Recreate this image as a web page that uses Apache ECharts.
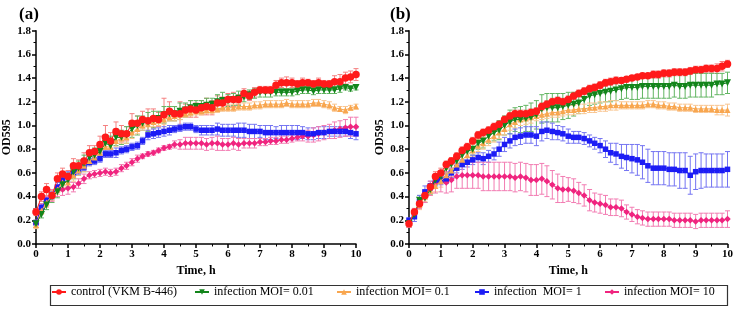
<!DOCTYPE html>
<html>
<head>
<meta charset="utf-8">
<script src="https://cdn.jsdelivr.net/npm/echarts@6/dist/echarts.min.js"></script>
<style>
  html, body { margin: 0; padding: 0; background: #fff; }
  #chart { width: 736px; height: 312px; }
</style>
</head>
<body>
<div id="chart"></div>
<script>
// sampling times, h (every 10 min)
var times = [0,0.17,0.33,0.5,0.67,0.83,1,1.17,1.33,1.5,1.67,1.83,2,2.17,2.33,2.5,2.67,2.83,3,3.17,3.33,3.5,3.67,3.83,4,4.17,4.33,4.5,4.67,4.83,5,5.17,5.33,5.5,5.67,5.83,6,6.17,6.33,6.5,6.67,6.83,7,7.17,7.33,7.5,7.67,7.83,8,8.17,8.33,8.5,8.67,8.83,9,9.17,9.33,9.5,9.67,9.83,10];

var names = ['control (VKM B-446)', 'infection MOI= 0.01', 'infection MOI= 0.1', 'infection  MOI= 1', 'infection MOI= 10'];

// panel (a)
var ctrlA = [0.27,0.40,0.46,0.41,0.55,0.59,0.57,0.66,0.66,0.70,0.77,0.78,0.84,0.90,0.87,0.95,0.93,0.93,1.02,1.02,1.05,1.04,1.06,1.05,1.09,1.12,1.10,1.10,1.13,1.14,1.13,1.15,1.16,1.15,1.19,1.19,1.22,1.22,1.22,1.27,1.25,1.28,1.30,1.30,1.30,1.34,1.36,1.36,1.36,1.35,1.36,1.36,1.35,1.36,1.35,1.35,1.37,1.37,1.40,1.41,1.43];
var ctrlAErr = [0.03,0.04,0.05,0.04,0.05,0.05,0.05,0.06,0.05,0.07,0.06,0.05,0.07,0.10,0.07,0.08,0.07,0.06,0.08,0.06,0.07,0.10,0.08,0.06,0.14,0.08,0.06,0.10,0.05,0.07,0.06,0.06,0.07,0.06,0.06,0.05,0.05,0.06,0.04,0.04,0.04,0.04,0.03,0.03,0.03,0.04,0.04,0.05,0.04,0.03,0.04,0.03,0.03,0.04,0.03,0.03,0.05,0.06,0.05,0.05,0.05];
var moi001A = [0.17,0.25,0.33,0.40,0.44,0.50,0.54,0.61,0.64,0.68,0.73,0.75,0.78,0.85,0.83,0.90,0.90,0.92,0.97,1.00,1.02,1.03,1.05,1.06,1.09,1.10,1.10,1.12,1.13,1.15,1.16,1.16,1.17,1.18,1.20,1.21,1.21,1.22,1.23,1.24,1.26,1.27,1.28,1.28,1.28,1.28,1.28,1.28,1.28,1.29,1.30,1.30,1.29,1.30,1.30,1.30,1.30,1.31,1.32,1.31,1.32];
var moi001AErr = [0.03,0.03,0.04,0.05,0.05,0.05,0.06,0.06,0.06,0.07,0.05,0.06,0.06,0.07,0.08,0.07,0.06,0.07,0.07,0.08,0.06,0.08,0.07,0.06,0.07,0.06,0.06,0.07,0.06,0.06,0.05,0.05,0.06,0.05,0.06,0.07,0.05,0.05,0.06,0.04,0.04,0.04,0.04,0.04,0.04,0.03,0.03,0.03,0.03,0.03,0.03,0.03,0.03,0.03,0.03,0.03,0.03,0.03,0.02,0.02,0.02];
var moi01A = [0.16,0.28,0.35,0.41,0.46,0.52,0.52,0.58,0.62,0.66,0.70,0.73,0.77,0.82,0.82,0.87,0.89,0.90,0.94,0.97,1.00,1.01,1.03,1.04,1.05,1.07,1.08,1.09,1.10,1.11,1.12,1.12,1.13,1.13,1.14,1.15,1.15,1.15,1.16,1.16,1.16,1.17,1.17,1.18,1.18,1.18,1.18,1.19,1.18,1.18,1.18,1.18,1.19,1.19,1.18,1.17,1.15,1.14,1.13,1.15,1.16];
var moi01AErr = [0.03,0.03,0.04,0.04,0.04,0.04,0.04,0.05,0.04,0.05,0.04,0.04,0.05,0.05,0.05,0.05,0.04,0.05,0.05,0.04,0.04,0.05,0.04,0.04,0.04,0.03,0.04,0.04,0.03,0.03,0.03,0.03,0.03,0.03,0.03,0.03,0.03,0.03,0.03,0.03,0.03,0.03,0.03,0.03,0.03,0.03,0.03,0.03,0.03,0.03,0.03,0.03,0.03,0.03,0.03,0.03,0.03,0.02,0.03,0.02,0.02];
var moi1A = [0.18,0.31,0.37,0.41,0.48,0.54,0.57,0.60,0.62,0.65,0.69,0.70,0.72,0.76,0.76,0.77,0.79,0.80,0.82,0.83,0.87,0.92,0.93,0.94,0.95,0.96,0.97,0.98,0.99,0.99,0.97,0.96,0.96,0.96,0.97,0.96,0.96,0.96,0.96,0.96,0.95,0.95,0.95,0.94,0.94,0.94,0.94,0.94,0.94,0.94,0.94,0.93,0.93,0.94,0.94,0.95,0.95,0.95,0.95,0.94,0.93];
var moi1AErr = [0.02,0.03,0.03,0.03,0.04,0.04,0.04,0.03,0.03,0.03,0.03,0.03,0.03,0.03,0.03,0.04,0.03,0.03,0.03,0.03,0.03,0.04,0.04,0.04,0.04,0.04,0.03,0.03,0.03,0.03,0.03,0.04,0.04,0.04,0.05,0.05,0.05,0.05,0.06,0.06,0.06,0.06,0.05,0.06,0.06,0.05,0.06,0.06,0.06,0.06,0.05,0.05,0.05,0.05,0.05,0.04,0.04,0.04,0.04,0.05,0.05];
var moi10A = [0.17,0.30,0.36,0.41,0.45,0.46,0.47,0.48,0.51,0.55,0.58,0.59,0.60,0.61,0.60,0.61,0.64,0.66,0.69,0.72,0.74,0.76,0.77,0.79,0.81,0.82,0.84,0.84,0.85,0.85,0.85,0.85,0.84,0.85,0.85,0.84,0.84,0.85,0.84,0.85,0.85,0.85,0.86,0.86,0.87,0.87,0.88,0.88,0.89,0.90,0.91,0.91,0.92,0.93,0.94,0.95,0.96,0.97,0.98,0.99,0.99];
var moi10AErr = [0.03,0.04,0.04,0.05,0.05,0.05,0.05,0.04,0.04,0.04,0.03,0.03,0.03,0.03,0.03,0.03,0.03,0.03,0.03,0.03,0.02,0.02,0.02,0.02,0.02,0.02,0.03,0.04,0.05,0.05,0.05,0.05,0.05,0.05,0.06,0.05,0.05,0.05,0.05,0.04,0.04,0.04,0.03,0.03,0.03,0.03,0.03,0.03,0.03,0.03,0.04,0.05,0.06,0.06,0.06,0.06,0.07,0.07,0.07,0.08,0.08];

// panel (b)
var ctrlB = [0.17,0.27,0.34,0.41,0.48,0.57,0.60,0.67,0.70,0.74,0.79,0.82,0.87,0.92,0.94,0.96,0.99,1.01,1.05,1.08,1.10,1.10,1.10,1.11,1.12,1.16,1.18,1.20,1.21,1.20,1.22,1.25,1.27,1.29,1.31,1.32,1.34,1.36,1.37,1.38,1.38,1.39,1.40,1.41,1.42,1.42,1.43,1.43,1.44,1.44,1.45,1.45,1.45,1.46,1.47,1.47,1.48,1.48,1.48,1.50,1.52];
var ctrlBErr = [0.03,0.03,0.03,0.03,0.03,0.04,0.04,0.03,0.03,0.03,0.03,0.03,0.03,0.03,0.03,0.03,0.03,0.03,0.03,0.03,0.03,0.03,0.03,0.03,0.03,0.03,0.03,0.03,0.03,0.03,0.03,0.03,0.03,0.03,0.03,0.03,0.03,0.03,0.03,0.03,0.02,0.02,0.02,0.02,0.02,0.02,0.03,0.03,0.03,0.03,0.03,0.03,0.03,0.03,0.03,0.03,0.03,0.03,0.04,0.04,0.03];
var moi001B = [0.17,0.25,0.37,0.39,0.46,0.54,0.57,0.64,0.67,0.70,0.75,0.78,0.80,0.85,0.87,0.91,0.94,0.96,1.00,1.03,1.05,1.05,1.06,1.07,1.09,1.14,1.15,1.15,1.15,1.16,1.17,1.18,1.19,1.22,1.25,1.26,1.27,1.28,1.29,1.30,1.31,1.32,1.32,1.32,1.33,1.33,1.33,1.33,1.33,1.33,1.34,1.33,1.33,1.34,1.34,1.34,1.34,1.34,1.35,1.35,1.36];
var moi001BErr = [0.03,0.03,0.04,0.04,0.04,0.04,0.04,0.04,0.04,0.04,0.05,0.05,0.05,0.05,0.06,0.06,0.07,0.08,0.08,0.10,0.10,0.11,0.11,0.12,0.12,0.12,0.12,0.12,0.12,0.11,0.11,0.10,0.09,0.08,0.08,0.08,0.08,0.08,0.09,0.09,0.09,0.09,0.10,0.10,0.10,0.10,0.10,0.10,0.10,0.10,0.10,0.10,0.10,0.10,0.10,0.10,0.10,0.10,0.09,0.09,0.09];
var moi01B = [0.17,0.27,0.33,0.40,0.45,0.49,0.53,0.58,0.62,0.67,0.71,0.75,0.79,0.83,0.85,0.88,0.91,0.94,0.97,1.01,1.03,1.05,1.06,1.07,1.08,1.09,1.10,1.11,1.11,1.12,1.13,1.13,1.14,1.14,1.15,1.15,1.16,1.16,1.17,1.17,1.17,1.17,1.17,1.17,1.17,1.18,1.18,1.17,1.17,1.16,1.16,1.15,1.15,1.15,1.14,1.14,1.14,1.14,1.13,1.13,1.13];
var moi01BErr = [0.03,0.03,0.04,0.04,0.04,0.05,0.05,0.05,0.05,0.05,0.05,0.05,0.05,0.05,0.05,0.05,0.05,0.05,0.05,0.05,0.05,0.05,0.05,0.05,0.04,0.04,0.04,0.04,0.04,0.04,0.04,0.04,0.04,0.04,0.04,0.04,0.04,0.04,0.04,0.04,0.03,0.03,0.03,0.03,0.03,0.03,0.03,0.03,0.03,0.03,0.03,0.03,0.03,0.03,0.03,0.03,0.03,0.03,0.04,0.04,0.05];
var moi1B = [0.20,0.23,0.36,0.44,0.49,0.54,0.54,0.55,0.60,0.64,0.67,0.69,0.71,0.73,0.72,0.74,0.76,0.80,0.84,0.87,0.90,0.91,0.92,0.92,0.91,0.95,0.96,0.95,0.94,0.93,0.91,0.90,0.90,0.89,0.87,0.85,0.83,0.80,0.77,0.76,0.74,0.73,0.72,0.71,0.69,0.66,0.64,0.64,0.64,0.63,0.63,0.62,0.62,0.58,0.61,0.62,0.62,0.62,0.62,0.62,0.63];
var moi1BErr = [0.02,0.04,0.05,0.05,0.04,0.05,0.04,0.04,0.04,0.04,0.04,0.04,0.04,0.04,0.05,0.05,0.05,0.06,0.06,0.06,0.07,0.07,0.07,0.07,0.08,0.08,0.07,0.07,0.06,0.06,0.06,0.05,0.05,0.05,0.05,0.05,0.06,0.07,0.08,0.09,0.10,0.11,0.12,0.13,0.14,0.14,0.14,0.14,0.14,0.14,0.14,0.15,0.15,0.16,0.15,0.15,0.14,0.14,0.14,0.14,0.15];
var moi10B = [0.17,0.26,0.34,0.40,0.47,0.51,0.53,0.52,0.54,0.57,0.58,0.58,0.58,0.58,0.57,0.57,0.57,0.57,0.57,0.57,0.56,0.57,0.56,0.54,0.54,0.55,0.53,0.50,0.47,0.46,0.46,0.45,0.43,0.41,0.37,0.35,0.34,0.33,0.31,0.31,0.30,0.27,0.25,0.23,0.22,0.21,0.21,0.21,0.21,0.21,0.20,0.20,0.20,0.20,0.19,0.20,0.20,0.20,0.20,0.20,0.21];
var moi10BErr = [0.03,0.04,0.04,0.05,0.06,0.08,0.09,0.09,0.10,0.10,0.11,0.11,0.11,0.11,0.12,0.12,0.12,0.12,0.12,0.12,0.12,0.12,0.12,0.13,0.13,0.13,0.13,0.12,0.12,0.11,0.10,0.10,0.09,0.09,0.09,0.08,0.08,0.08,0.07,0.07,0.07,0.06,0.06,0.06,0.06,0.06,0.06,0.06,0.06,0.06,0.06,0.06,0.06,0.06,0.06,0.06,0.06,0.06,0.06,0.06,0.07];

var colors = ['#ff1a1a', '#13851b', '#f8a64f', '#1c1cf5', '#f0247f'];
var errColors = ['#f58080', '#62b562', '#f9c48e', '#7474f2', '#f27cb2'];
var symbols = ['circle', 'triangle', 'triangle', 'rect', 'diamond'];
var symbolSizes = [7.5, 7, 6, 5.5, 6.5];
var rotates = [0, 180, 0, 0, 0];

var serif = 'Liberation Serif';
var myChart = echarts.init(document.getElementById('chart'));

function pairs(vals) {
    return times.map(function (t, i) { return [t, vals[i]]; });
}
function errRows(vals, err) {
    return times.map(function (t, i) { return [t, vals[i] - err[i], vals[i] + err[i]]; });
}

function lineSeries(k, vals, idx) {
    return {
        name: names[k],
        type: 'line',
        xAxisIndex: idx,
        yAxisIndex: idx,
        data: pairs(vals),
        symbol: symbols[k],
        symbolSize: symbolSizes[k],
        symbolRotate: rotates[k],
        showAllSymbol: true,
        color: colors[k],
        lineStyle: { width: 1, color: colors[k] },
        itemStyle: { color: colors[k] },
        z: 10 - k,
        animation: false
    };
}

function errSeries(k, vals, err, idx) {
    var c = errColors[k];
    return {
        name: names[k],
        type: 'custom',
        xAxisIndex: idx,
        yAxisIndex: idx,
        data: errRows(vals, err),
        encode: { x: 0, y: [1, 2] },
        z: 3,
        animation: false,
        renderItem: function (params, api) {
            var top = api.coord([api.value(0), api.value(2)]);
            var bot = api.coord([api.value(0), api.value(1)]);
            var w = 2.5;
            var st = { stroke: c, lineWidth: 1 };
            return {
                type: 'group',
                children: [
                    { type: 'line', shape: { x1: top[0], y1: top[1], x2: bot[0], y2: bot[1] }, style: st },
                    { type: 'line', shape: { x1: top[0] - w, y1: top[1], x2: top[0] + w, y2: top[1] }, style: st },
                    { type: 'line', shape: { x1: bot[0] - w, y1: bot[1], x2: bot[0] + w, y2: bot[1] }, style: st }
                ]
            };
        }
    };
}

var panelA = [[ctrlA, ctrlAErr], [moi001A, moi001AErr], [moi01A, moi01AErr], [moi1A, moi1AErr], [moi10A, moi10AErr]];
var panelB = [[ctrlB, ctrlBErr], [moi001B, moi001BErr], [moi01B, moi01BErr], [moi1B, moi1BErr], [moi10B, moi10BErr]];

var series = [];
[panelA, panelB].forEach(function (panel, idx) {
    panel.forEach(function (d, k) { series.push(lineSeries(k, d[0], idx)); });
});
[panelA, panelB].forEach(function (panel, idx) {
    panel.forEach(function (d, k) { series.push(errSeries(k, d[0], d[1], idx)); });
});

function xAxis(idx) {
    return {
        type: 'value',
        gridIndex: idx,
        min: 0, max: 10, interval: 1,
        name: 'Time, h',
        nameLocation: 'middle',
        nameGap: 19,
        nameTextStyle: { fontFamily: serif, fontWeight: 'bold', fontSize: 12, color: '#000' },
        axisLine: { onZero: false, lineStyle: { color: '#000', width: 1.5 } },
        axisTick: { length: 4, lineStyle: { color: '#000', width: 1.5 } },
        minorTick: { show: true, splitNumber: 2, length: 2.5, lineStyle: { color: '#000', width: 1 } },
        splitLine: { show: false },
        axisLabel: { fontFamily: serif, fontWeight: 'bold', fontSize: 11, color: '#000', margin: 5 }
    };
}
function yAxis(idx) {
    return {
        type: 'value',
        gridIndex: idx,
        min: 0, max: 1.8, interval: 0.2,
        name: 'OD595',
        nameLocation: 'middle',
        nameGap: 23,
        nameRotate: 90,
        nameTextStyle: { fontFamily: serif, fontWeight: 'bold', fontSize: 12, color: '#000' },
        axisLine: { show: true, lineStyle: { color: '#000', width: 1.5 } },
        axisTick: { show: true, length: 4, lineStyle: { color: '#000', width: 1.5 } },
        minorTick: { show: true, splitNumber: 2, length: 2.5, lineStyle: { color: '#000', width: 1 } },
        splitLine: { show: false },
        axisLabel: {
            fontFamily: serif, fontWeight: 'bold', fontSize: 11, color: '#000', margin: 5,
            formatter: function (v) { return v.toFixed(1); }
        }
    };
}

// one legend per item so the spacing follows the original box
var legendLeft = [51, 194, 336, 474, 604];
var legends = names.map(function (n, k) {
    return {
        data: [n],
        left: legendLeft[k],
        top: 286,
        itemWidth: 14,
        itemHeight: 7,
        itemGap: 0,
        padding: 0,
        selectedMode: false,
        textStyle: { fontFamily: serif, fontSize: 12, color: '#000' }
    };
});

var option = {
    backgroundColor: '#fff',
    animation: false,
    title: [
        { text: '(a)', left: 14, top: 1, textStyle: { fontFamily: serif, fontWeight: 'bold', fontSize: 17, color: '#000' } },
        { text: '(b)', left: 385, top: 1, textStyle: { fontFamily: serif, fontWeight: 'bold', fontSize: 17, color: '#000' } }
    ],
    legend: legends,
    grid: [
        { left: 35.7, top: 30.7, width: 320.3, height: 213.3 },
        { left: 409, top: 30.7, width: 319.3, height: 213.3 }
    ],
    xAxis: [xAxis(0), xAxis(1)],
    yAxis: [yAxis(0), yAxis(1)],
    graphic: [{
        type: 'rect',
        left: 48, top: 283,
        shape: { width: 677, height: 20 },
        style: { fill: 'none', stroke: '#333', lineWidth: 1.2 },
        silent: true
    }],
    series: series
};
myChart.setOption(option);
</script>
</body>
</html>
